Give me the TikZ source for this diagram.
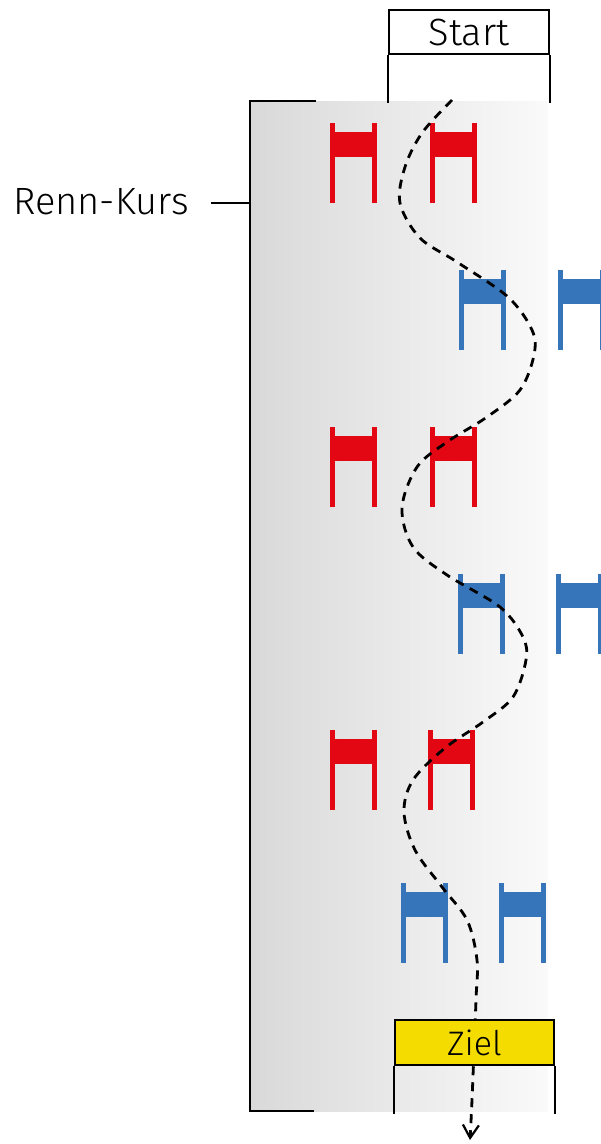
\documentclass[tikz,border=0pt]{standalone}
\usepackage{fontspec}
\setmainfont{Fira Sans Light}
\usetikzlibrary{arrows.meta}
\definecolor{hred}{HTML}{E30613}
\definecolor{hblue}{HTML}{3775BA}
\definecolor{zielyellow}{HTML}{F5DC00}
\tikzset{
  hurdle/.pic={
    \fill[#1] (0,0) rectangle (5,80);
    \fill[#1] (42,0) rectangle (47,80);
    \fill[#1] (5,9) rectangle (42,34);
  },
  frameline/.style={line width=2.8pt, black},
  boxline/.style={line width=2.2pt, black},
  lbl/.style={font=\fontsize{38}{42}\selectfont, inner sep=0pt},
  course/.style={line width=2.8pt, dash pattern=on 9pt off 7pt, -{Straight Barb[length=13pt,width=16pt,line width=2.2pt]}}
}
\begin{document}
\begin{tikzpicture}[x=1pt,y=-1pt]
\useasboundingbox (0,0) rectangle (601,1144);
% course background
\shade[left color=black!15, right color=black!2] (250,101) rectangle (548,1111);
% bracket
\draw[frameline] (316,101) -- (250,101) -- (250,1111) -- (314,1111);
\node[lbl, anchor=east] (kurs) at (189,202) {Renn-Kurs};
\coordinate (tickend) at (250,203);
\draw[line width=2.2pt] ([xshift=22pt]kurs.east |- tickend) -- (tickend);
% start box
\node[lbl, draw, line width=2pt, minimum width=160pt, minimum height=44pt, anchor=north west] (start) at (388,9) {Start};
\draw[boxline] (start.south west) -- ++(0,48);
\draw[boxline] (start.south east) -- ++(0,48);
% hurdles
\pic at (330,123) {hurdle=hred};
\pic at (430,123) {hurdle=hred};
\pic at (459,270) {hurdle=hblue};
\pic at (558,270) {hurdle=hblue};
\pic at (330,427) {hurdle=hred};
\pic at (430,427) {hurdle=hred};
\pic at (458,574) {hurdle=hblue};
\pic at (556,574) {hurdle=hblue};
\pic at (330,730) {hurdle=hred};
\pic at (428,730) {hurdle=hred};
\pic at (401,883) {hurdle=hblue};
\pic at (499,883) {hurdle=hblue};
% course line
\coordinate (cstart) at (452,100);
\coordinate (cend) at (470,1140);
\draw[course] plot[smooth, tension=0.55] coordinates {
  (cstart) (422,133) (405,167) (400,203) (420,238) (457,262) (508,297)
  (532,330) (534,355) (520,390) (487,417) (447,442) (417,467) (402,508)
  (413,547) (447,575) (500,607) (523,637) (526,660) (513,697) (483,722)
  (445,748) (413,780) (404,812) (415,850) (442,887) (467,920) (477,960)
  (476,1000) (472,1100) (cend)};
% ziel box (drawn over the course line)
\node[lbl, font=\fontsize{34}{38}\selectfont, draw, line width=2pt, fill=zielyellow, minimum width=159pt, minimum height=45pt, anchor=north west] (ziel) at (394,1019) {Ziel};
\draw[boxline] (ziel.south west) -- ++(0,48);
\draw[boxline] (ziel.south east) -- ++(0,48);
\end{tikzpicture}
\end{document}
